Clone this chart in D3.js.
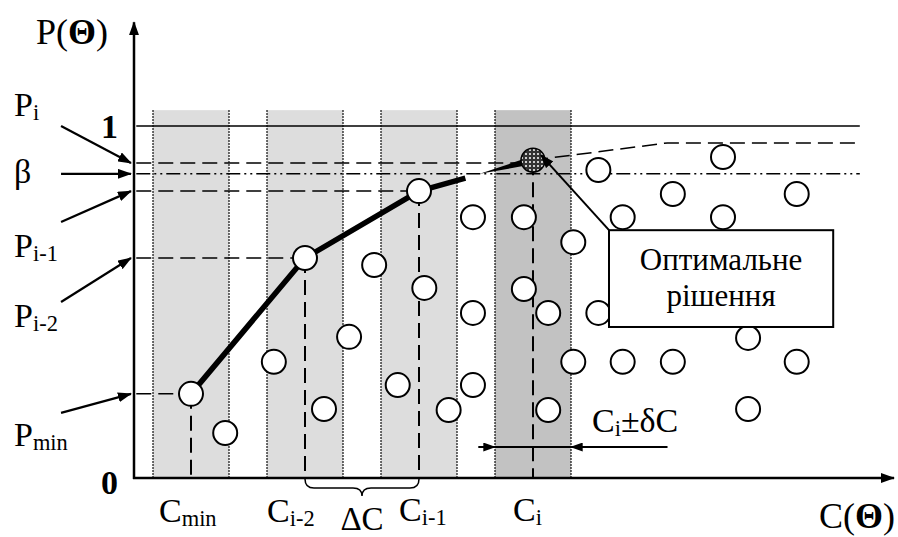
<!DOCTYPE html>
<html>
<head>
<meta charset="utf-8">
<script src="https://cdn.jsdelivr.net/npm/d3@7"></script>
<style>
body { margin: 0; background: #fff; }
svg text { font-family: "Liberation Serif", "DejaVu Serif", "Times New Roman", serif; fill: #000; }
</style>
</head>
<body>
<svg id="chart" width="898" height="537"></svg>
<script>
// bands of cost  (C units, centre +- half width)
const bandCenters = [7.5, 22.5, 37.5, 52.5];
const bandHalf = 5;
const bandDark = [false, false, false, true];
const bandTop = 1.045;

// chosen solutions along the path
const pathC = [7.5, 22.5, 37.5, 43.6];
const pathP = [0.239, 0.625, 0.815, 0.852];
const solC = [7.5, 22.5, 37.5];
const solP = [0.239, 0.625, 0.815];
const approachC = [45.5, 52.5];
const approachP = [0.864, 0.903];
const optC = 52.5;
const optP = 0.903;

// cloud of other solutions
const cloudC = [12.0, 18.4, 25.0, 28.3, 31.6, 34.7, 38.2, 41.4, 44.6, 44.6, 44.6,
    51.3, 51.3, 54.5, 54.5, 57.8, 57.8, 61.1, 61.1, 64.3, 64.3, 70.9, 70.9,
    77.5, 77.5, 80.8, 80.8, 87.2, 87.2];
const cloudP = [0.128, 0.330, 0.196, 0.401, 0.605, 0.264, 0.540, 0.193, 0.741, 0.469, 0.264,
    0.741, 0.537, 0.469, 0.193, 0.670, 0.330, 0.875, 0.469, 0.741, 0.330, 0.807, 0.330,
    0.912, 0.741, 0.398, 0.196, 0.807, 0.330];

// levels
const levelPi = 0.895;
const levelBeta = 0.864;
const levelEnd = 95.5;
const upperC = [52.5, 70.2, 95.5];
const upperP = [0.903, 0.952, 0.952];

// left labels: start point of the pointer and level pointed to
const pointerFrom = [1.0, 0.864, 0.727, 0.5, 0.185];
const pointerTo = [0.895, 0.864, 0.815, 0.625, 0.239];

const deltaBand = [45.3, 70.2];
const deltaP = 0.088;

const svg = d3.select("#chart");
const x = d3.scaleLinear().domain([0, 100]).range([134, 894]);
const y = d3.scaleLinear().domain([0, 1]).range([478, 126]);

// markers
const defs = svg.append("defs");
defs.append("marker")
    .attr("id", "arr")
    .attr("viewBox", "0 0 14 10")
    .attr("refX", 13).attr("refY", 5)
    .attr("markerWidth", 14).attr("markerHeight", 10)
    .attr("markerUnits", "userSpaceOnUse")
    .attr("orient", "auto")
    .append("path").attr("d", "M0,0 L14,5 L0,10 z").attr("fill", "#000");
defs.append("marker")
    .attr("id", "arrS")
    .attr("viewBox", "0 0 14 10")
    .attr("refX", 13).attr("refY", 5)
    .attr("markerWidth", 14).attr("markerHeight", 9)
    .attr("markerUnits", "userSpaceOnUse")
    .attr("orient", "auto")
    .append("path").attr("d", "M0,0 L14,5 L0,10 z").attr("fill", "#000");
const pat = defs.append("pattern")
    .attr("id", "mesh")
    .attr("width", 4).attr("height", 4)
    .attr("patternUnits", "userSpaceOnUse");
pat.append("rect").attr("width", 4).attr("height", 4).attr("fill", "#333");
pat.append("rect").attr("x", 1).attr("y", 1).attr("width", 2).attr("height", 2).attr("fill", "#ccc");

// bands
bandCenters.forEach((c, i) => {
    svg.append("rect")
        .attr("x", x(c - bandHalf))
        .attr("y", y(bandTop))
        .attr("width", x(c + bandHalf) - x(c - bandHalf))
        .attr("height", y(0) - y(bandTop))
        .attr("fill", bandDark[i] ? "#c2c2c2" : "#dddddd");
    [c - bandHalf, c + bandHalf].forEach(e => {
        svg.append("line")
            .attr("x1", x(e)).attr("x2", x(e))
            .attr("y1", y(bandTop)).attr("y2", y(0))
            .attr("stroke", "#000").attr("stroke-width", 1.5)
            .attr("stroke-dasharray", "1.5,1.5");
    });
});

// level lines
svg.append("line")
    .attr("x1", x(0.3)).attr("x2", x(levelEnd))
    .attr("y1", y(1)).attr("y2", y(1))
    .attr("stroke", "#000").attr("stroke-width", 1.5);
svg.append("line")
    .attr("x1", x(0.3)).attr("x2", x(optC))
    .attr("y1", y(levelPi)).attr("y2", y(levelPi))
    .attr("stroke", "#000").attr("stroke-width", 1.5)
    .attr("stroke-dasharray", "15,7");
svg.append("path")
    .attr("d", d3.line()(upperC.map((c, i) => [x(c), y(upperP[i])])))
    .attr("fill", "none").attr("stroke", "#000").attr("stroke-width", 1.5)
    .attr("stroke-dasharray", "15,7");
svg.append("line")
    .attr("x1", x(0.3)).attr("x2", x(levelEnd))
    .attr("y1", y(levelBeta)).attr("y2", y(levelBeta))
    .attr("stroke", "#000").attr("stroke-width", 1.5)
    .attr("stroke-dasharray", "14,4,2,4,2,4");

// dashed guides to solutions
solC.forEach((c, i) => {
    svg.append("line")
        .attr("x1", x(0.3)).attr("x2", x(c))
        .attr("y1", y(solP[i])).attr("y2", y(solP[i]))
        .attr("stroke", "#000").attr("stroke-width", 1.5)
        .attr("stroke-dasharray", "15,7");
});
solC.concat([optC]).forEach((c, i) => {
    const p = i < solP.length ? solP[i] : optP;
    svg.append("line")
        .attr("x1", x(c)).attr("x2", x(c))
        .attr("y1", y(p)).attr("y2", y(0))
        .attr("stroke", "#000").attr("stroke-width", 2)
        .attr("stroke-dasharray", "15,7");
});

// axes
svg.append("line")
    .attr("x1", x(0)).attr("x2", x(0))
    .attr("y1", y(0) + 1).attr("y2", y(1.295))
    .attr("stroke", "#000").attr("stroke-width", 2.5)
    .attr("marker-end", "url(#arr)");
svg.append("line")
    .attr("x1", x(0) - 1).attr("x2", x(100))
    .attr("y1", y(0)).attr("y2", y(0))
    .attr("stroke", "#000").attr("stroke-width", 2.5)
    .attr("marker-end", "url(#arr)");

const yAxis = svg.append("g")
    .attr("transform", `translate(${x(0)},0)`)
    .call(d3.axisLeft(y).tickValues([0, 1]).tickSize(0).tickPadding(16).tickFormat(d3.format("d")));
yAxis.select(".domain").remove();
yAxis.selectAll("text")
    .attr("font-family", "Liberation Serif")
    .attr("font-size", 34).attr("font-weight", "bold")
    .attr("dy", (d) => d === 0 ? "0.45em" : "0.33em");

// thick path
svg.append("path")
    .attr("d", d3.line()(pathC.map((c, i) => [x(c), y(pathP[i])])))
    .attr("fill", "none").attr("stroke", "#000").attr("stroke-width", 5.5)
    .attr("stroke-linejoin", "round");
{
    const a = [x(approachC[0]), y(approachP[0])];
    const b = [x(approachC[1]), y(approachP[1])];
    const dx = b[0] - a[0], dy = b[1] - a[1];
    const len = Math.hypot(dx, dy);
    const nx = -dy / len, ny = dx / len;
    const w = 4;
    svg.append("path")
        .attr("d", `M${a[0]},${a[1]} L${b[0] + nx * w},${b[1] + ny * w} L${b[0] - nx * w},${b[1] - ny * w} Z`)
        .attr("fill", "#000");
}

// cloud
svg.selectAll(".cloud")
    .data(cloudC.map((c, i) => [c, cloudP[i]]))
    .enter().append("circle")
    .attr("class", "cloud")
    .attr("cx", d => x(d[0])).attr("cy", d => y(d[1]))
    .attr("r", 12)
    .attr("fill", "#fff").attr("stroke", "#000").attr("stroke-width", 2);
svg.selectAll(".sol")
    .data(solC.map((c, i) => [c, solP[i]]))
    .enter().append("circle")
    .attr("class", "sol")
    .attr("cx", d => x(d[0])).attr("cy", d => y(d[1]))
    .attr("r", 12)
    .attr("fill", "#fff").attr("stroke", "#000").attr("stroke-width", 2);
svg.append("circle")
    .attr("cx", x(optC)).attr("cy", y(optP)).attr("r", 12)
    .attr("fill", "url(#mesh)").attr("stroke", "#000").attr("stroke-width", 1.5);

// callout box
const boxC = [62.5, 92.0];
const boxP = [0.704, 0.429];
svg.append("line")
    .attr("x1", x(boxC[0])).attr("y1", y(boxP[0]))
    .attr("x2", x(optC) + 8).attr("y2", y(optP) - 5)
    .attr("stroke", "#000").attr("stroke-width", 2)
    .attr("marker-end", "url(#arr)");
svg.append("rect")
    .attr("x", x(boxC[0])).attr("y", y(boxP[0]))
    .attr("width", x(boxC[1]) - x(boxC[0]))
    .attr("height", y(boxP[1]) - y(boxP[0]))
    .attr("fill", "#fff").attr("stroke", "#000").attr("stroke-width", 2);
const boxMid = (x(boxC[0]) + x(boxC[1])) / 2;
svg.append("text").attr("x", boxMid).attr("y", 270)
    .attr("text-anchor", "middle").attr("font-size", 31).text("Оптимальне");
svg.append("text").attr("x", boxMid).attr("y", 306)
    .attr("text-anchor", "middle").attr("font-size", 31).text("рішення");

// delta band arrow
svg.append("line")
    .attr("x1", x(deltaBand[0])).attr("x2", x(optC - bandHalf))
    .attr("y1", y(deltaP)).attr("y2", y(deltaP))
    .attr("stroke", "#000").attr("stroke-width", 2)
    .attr("marker-end", "url(#arrS)");
svg.append("line")
    .attr("x1", x(optC - bandHalf)).attr("x2", x(optC + bandHalf))
    .attr("y1", y(deltaP)).attr("y2", y(deltaP))
    .attr("stroke", "#000").attr("stroke-width", 2);
svg.append("line")
    .attr("x1", x(deltaBand[1])).attr("x2", x(optC + bandHalf))
    .attr("y1", y(deltaP)).attr("y2", y(deltaP))
    .attr("stroke", "#000").attr("stroke-width", 2)
    .attr("marker-end", "url(#arrS)");

// brace under Ci-2 .. Ci-1
{
    const x1 = x(solC[1]), x2 = x(solC[2]), m = (x1 + x2) / 2;
    const y0 = y(0) + 1, y1 = y0 + 9, y2 = y0 + 17;
    svg.append("path")
        .attr("d", `M${x1},${y0} Q${x1},${y1} ${x1 + 9},${y1} L${m - 9},${y1} Q${m},${y1} ${m},${y2} ` +
            `Q${m},${y1} ${m + 9},${y1} L${x2 - 9},${y1} Q${x2},${y1} ${x2},${y0}`)
        .attr("fill", "none").attr("stroke", "#000").attr("stroke-width", 1.5);
}

// left pointers
pointerFrom.forEach((p, i) => {
    svg.append("line")
        .attr("x1", x(-9.6)).attr("y1", y(p))
        .attr("x2", x(-0.4)).attr("y2", y(pointerTo[i]))
        .attr("stroke", "#000").attr("stroke-width", 2.2)
        .attr("marker-end", "url(#arr)");
});

// text helper with subscripts / bold parts
function label(px, py, parts, size, anchor) {
    const t = svg.append("text")
        .attr("x", px).attr("y", py)
        .attr("font-size", size)
        .attr("text-anchor", anchor || "start");
    let shifted = false;
    parts.forEach(([s, kind]) => {
        const ts = t.append("tspan").text(s);
        if (kind === "sub") {
            ts.attr("font-size", size * 0.66).attr("dy", shifted ? 0 : 4);
            shifted = true;
        } else {
            if (shifted) ts.attr("dy", -4);
            shifted = false;
            if (kind === "bold") ts.attr("font-weight", "bold");
        }
    });
    return t;
}

const fs = 34;
label(36, 44, [["P(", ""], ["Θ", "bold"], [")", ""]], 36);
label(895, 528, [["C(", ""], ["Θ", "bold"], [")", ""]], 36, "end");

label(14, 116, [["P", ""], ["i", "sub"]], fs);
label(14, 183, [["β", ""]], fs);
label(14, 257, [["P", ""], ["i-1", "sub"]], fs);
label(14, 327, [["P", ""], ["i-2", "sub"]], fs);
label(14, 446, [["P", ""], ["min", "sub"]], fs);

label(x(solC[0]) - 32, 522, [["C", ""], ["min", "sub"]], fs);
label(x(solC[1]) - 38, 522, [["C", ""], ["i-2", "sub"]], fs);
label((x(solC[1]) + x(solC[2])) / 2, 530, [["ΔC", ""]], 33, "middle");
label(x(solC[2]) - 20, 521, [["C", ""], ["i-1", "sub"]], fs);
label(x(optC) - 20, 521, [["C", ""], ["i", "sub"]], fs);
label(592, 432, [["C", ""], ["i", "sub"], ["±δC", ""]], fs);
</script>
</body>
</html>
